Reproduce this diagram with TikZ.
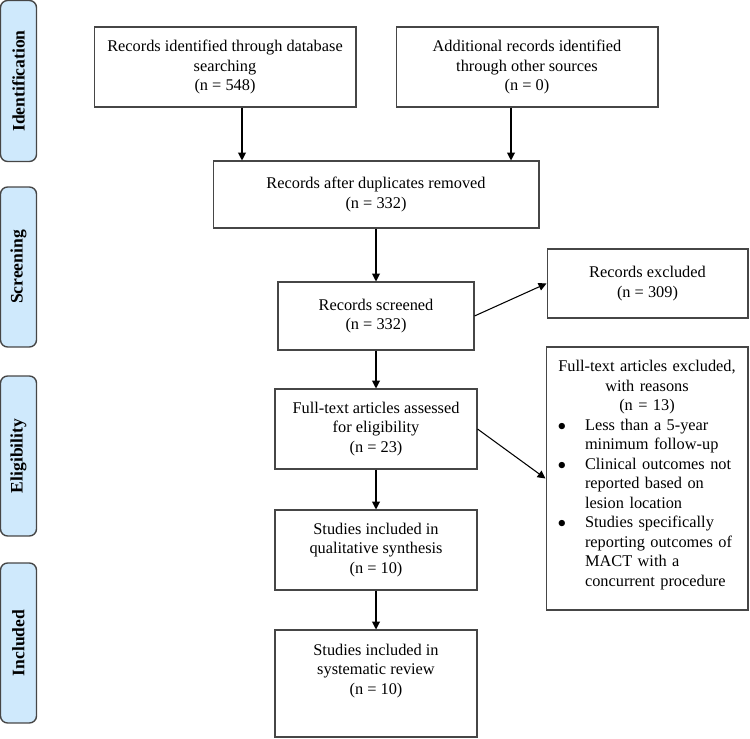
\documentclass[tikz,border=0pt]{standalone}
\usepackage{fontspec}
\setmainfont{Liberation Serif}
\usetikzlibrary{arrows.meta}
\definecolor{phaseblue}{RGB}{207,233,252}
\definecolor{boxgray}{RGB}{70,70,70}
\begin{document}
\begin{tikzpicture}[x=0.02cm,y=-0.02cm,
  phase/.style={draw=boxgray,fill=phaseblue,line width=0.8pt,rounded corners=4pt,
    minimum width=0.72cm,minimum height=3.2cm,inner sep=0pt,font=\fontsize{10}{12}\selectfont\bfseries},
  box/.style={draw=boxgray,line width=0.6pt,inner sep=0pt,align=center,font=\fontsize{9.3}{11}\selectfont},
  arr/.style={-{Triangle[length=4.5pt,width=4.5pt]},line width=0.6pt}]
\useasboundingbox (0,0) rectangle (750,739);
%\draw[step=50,gray,very thin] (0,0) grid (750,739); %background grid
% phases on the left
\node[phase,minimum height=3.22cm] (ident) at (18.5,81) {\rotatebox{90}{Identification}};
\node[phase] (screen) at (18.5,267) {\rotatebox{90}{Screening}};
\node[phase] (elig) at (18.5,456) {\rotatebox{90}{Eligibility}};
\node[phase] (incl) at (18.5,643) {\rotatebox{90}{Included}};
% flow boxes
\node[box,minimum width=5.24cm,minimum height=1.6cm] (recdb) at (225,67) {Records identified through database\\ searching\\ (n = 548)};
\node[box,minimum width=5.24cm,minimum height=1.6cm] (recother) at (527,67) {Additional records identified\\ through other sources\\ (n = 0)};
\node[box,minimum width=6.52cm,minimum height=1.34cm] (dedup) at (376,194.5) {Records after duplicates removed\\ (n = 332)};
\node[box,minimum width=3.92cm,minimum height=1.36cm] (screened) at (376,316) {Records screened\\ (n = 332)};
\node[box,minimum width=4.02cm,minimum height=1.38cm] (recexcl) at (647.5,283.5) {Records excluded\\ (n = 309)};
\node[box,minimum width=4.04cm,minimum height=1.6cm] (fulltext) at (376,429) {Full-text articles assessed\\ for eligibility\\ (n = 23)};
\node[box,text width=4.04cm,minimum height=5.26cm,font=\fontsize{9.3}{11.1}\selectfont] (ftexcl) at (647,478.5) {Full-text articles excluded,\\ with reasons\\ (n = 13)\\
  \makebox[\linewidth][l]{\hspace{6.8pt}\begin{tabular}[t]{@{}p{15.4pt}@{}l@{}}
  $\bullet$ & Less than a 5-year\\
   & minimum follow-up\\
  $\bullet$ & Clinical outcomes not\\
   & reported based on\\
   & lesion location\\
  $\bullet$ & Studies specifically\\
   & reporting outcomes of\\
   & MACT with a\\
   & concurrent procedure\rule[-6pt]{0pt}{0pt}
  \end{tabular}}};
\node[box,minimum width=4.04cm,minimum height=1.6cm] (qualit) at (376,550) {Studies included in\\ qualitative synthesis\\ (n = 10)};
\node[box,minimum width=4.04cm,minimum height=2.14cm] (review) at (376,683.5) {Studies included in\\ systematic review\\ (n = 10)\rule[-16.5pt]{0pt}{0pt}};
% arrows
\draw[arr] ([xshift=0.34cm]recdb.south) -- ([xshift=0.34cm]recdb.south |- dedup.north);
\draw[arr] ([xshift=-0.32cm]recother.south) -- ([xshift=-0.32cm]recother.south |- dedup.north);
\draw[arr] (dedup) -- (screened);
\draw[arr] (screened.east) -- (recexcl.west);
\draw[arr] (screened) -- (fulltext);
\draw[arr] (fulltext.east) -- (ftexcl.west);
\draw[arr] (fulltext) -- (qualit);
\draw[arr] (qualit) -- (review);
\end{tikzpicture}
\end{document}
